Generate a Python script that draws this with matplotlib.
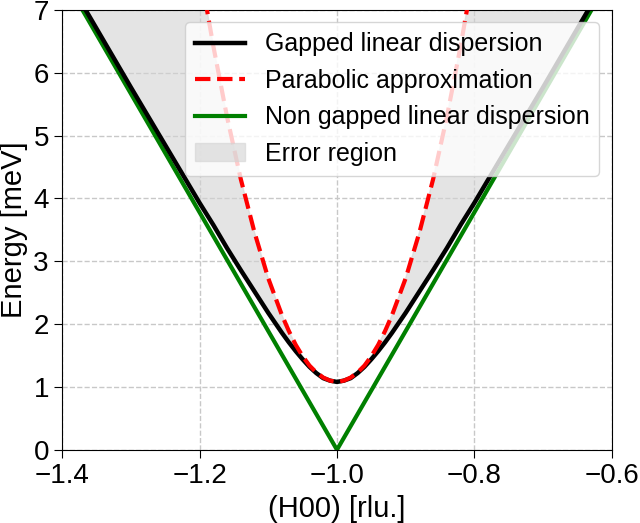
import numpy as np
import matplotlib.pyplot as plt

plt.rcParams['font.family'] = ['Liberation Sans', 'DejaVu Sans']

dh = [0.0, 0.01, 0.02, 0.03, 0.04, 0.05, 0.06, 0.07, 0.08, 0.10, 0.12,
      0.14, 0.16, 0.18, 0.20, 0.25, 0.30, 0.37, 0.40]
e_gapped = [1.08, 1.10, 1.14, 1.22, 1.32, 1.44, 1.57, 1.71, 1.86, 2.18, 2.52,
            2.86, 3.21, 3.58, 3.93, 4.85, 5.77, 7.08, 7.64]
e_parab = [1.08, 1.10, 1.15, 1.23, 1.34, 1.49, 1.67, 1.89, 2.14, 2.73, 3.46,
           4.31, 5.30, 6.43, 7.68, 11.39, 15.93, 23.67, 27.48]

h_lin = [-1.4, -1.0, -0.6]
e_lin = [7.56, 0.0, 7.56]

d = np.array(dh)
h = np.concatenate([-1 - d[::-1], -1 + d[1:]])
eg = np.concatenate([e_gapped[::-1], e_gapped[1:]])
ep = np.concatenate([e_parab[::-1], e_parab[1:]])

fig, ax = plt.subplots(figsize=(6.4, 5.23), dpi=100)
fig.subplots_adjust(left=0.097, right=0.956, bottom=0.140, top=0.981)

ax.fill_between(h, eg, ep, color='lightgray', alpha=0.6, label='Error region', zorder=1)
ax.plot(h, eg, color='black', lw=3.2, label='Gapped linear dispersion', zorder=3)
ax.plot(h, ep, color='red', lw=3, ls='--', label='Parabolic approximation', zorder=4)
ax.plot(h_lin, e_lin, color='green', lw=3, label='Non gapped linear dispersion', zorder=2)

ax.set_xlim(-1.4, -0.6)
ax.set_ylim(0, 7)
ax.set_xticks([-1.4, -1.2, -1.0, -0.8, -0.6])
ax.set_yticks(range(8))
ax.grid(True, ls='--', color='#c8c8c8', lw=1)
ax.set_axisbelow(True)
ax.tick_params(labelsize=20, length=6)
ax.set_xlabel('(H00) [rlu.]', fontsize=21)
ax.set_ylabel('Energy [meV]', fontsize=21)

handles, labels = ax.get_legend_handles_labels()
order = [1, 2, 3, 0]
ax.legend([handles[i] for i in order], [labels[i] for i in order],
          loc='upper right', fontsize=18)

plt.savefig('out.png')
